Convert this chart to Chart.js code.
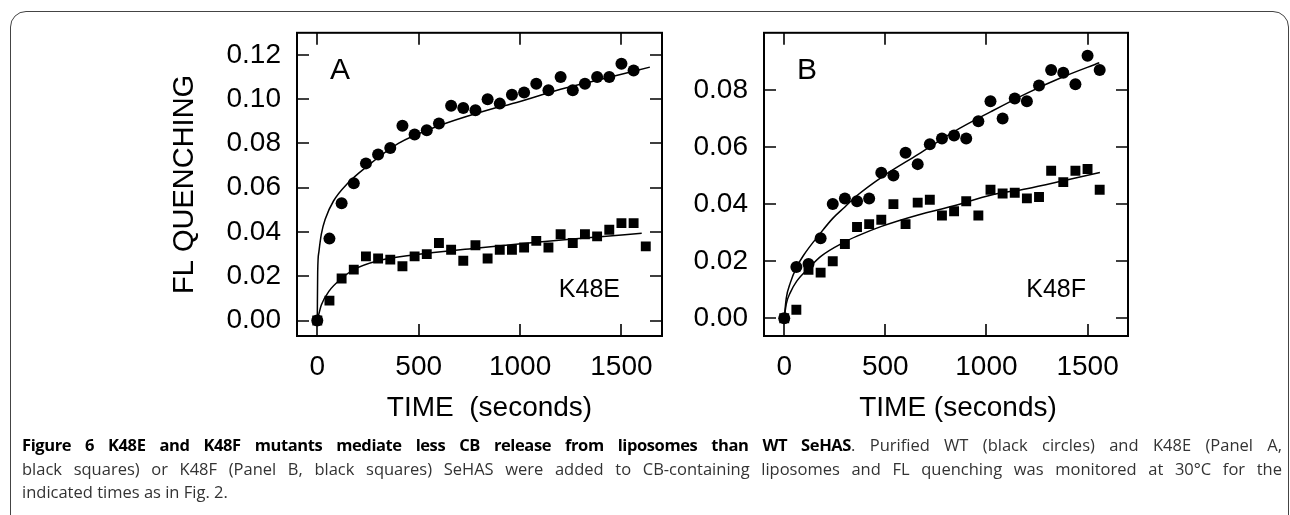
<!DOCTYPE html>
<html>
<head>
<meta charset="utf-8">
<script src="https://cdn.jsdelivr.net/npm/chart.js@4.4.0/dist/chart.umd.min.js"></script>
<style>
  html, body { margin: 0; padding: 0; background: #fff; width: 1290px; height: 515px; overflow: hidden; }
  #frame { position: absolute; left: 10px; top: 11px; width: 1279px; height: 600px; box-sizing: border-box;
           border: 1.5px solid #444; border-radius: 16px; }
  .wrap { position: absolute; top: 0; height: 440px; }
  #wrapA { left: 150px; width: 550px; }
  #wrapB { left: 670px; width: 500px; }
  #caption { position: absolute; left: 22px; top: 433px; width: 1260px; font-family: 'Open Sans', sans-serif;
             font-size: 16.5px; line-height: 23.5px; color: #333; }
  #caption div { text-align: justify; white-space: nowrap; }
  #caption .full { text-align-last: justify; }
  #caption b { color: #000; letter-spacing: -0.4px; }
</style>
</head>
<body>
<div id="frame"></div>
<div class="wrap" id="wrapA"><canvas id="chartA"></canvas></div>
<div class="wrap" id="wrapB"><canvas id="chartB"></canvas></div>
<div id="caption">
  <div class="full"><b>Figure 6 K48E and K48F mutants mediate less CB release from liposomes than WT SeHAS</b>. Purified WT (black circles) and K48E (Panel A,</div>
  <div class="full">black squares) or K48F (Panel B, black squares) SeHAS were added to CB-containing liposomes and FL quenching was monitored at 30°C for the</div>
  <div>indicated times as in Fig. 2.</div>
</div>
<script>
// Panel A: WT (circles) and K48E (squares)
const timesA_wt = [0, 60, 120, 180, 240, 300, 360, 420, 480, 540, 600, 660, 720, 780, 840, 900, 960, 1020, 1080, 1140, 1200, 1260, 1320, 1380, 1440, 1500, 1560];
const quenchA_wt = [0, 0.037, 0.053, 0.062, 0.071, 0.075, 0.078, 0.088, 0.084, 0.086, 0.089, 0.097, 0.096, 0.095, 0.100, 0.098, 0.102, 0.103, 0.107, 0.104, 0.110, 0.104, 0.107, 0.110, 0.110, 0.116, 0.113];
const timesA_mut = [0, 60, 120, 180, 240, 300, 360, 420, 480, 540, 600, 660, 720, 780, 840, 900, 960, 1020, 1080, 1140, 1200, 1260, 1320, 1380, 1440, 1500, 1560, 1620];
const quenchA_mut = [0, 0.009, 0.019, 0.023, 0.029, 0.028, 0.0275, 0.0245, 0.029, 0.030, 0.035, 0.032, 0.027, 0.034, 0.028, 0.032, 0.032, 0.033, 0.036, 0.033, 0.039, 0.035, 0.039, 0.038, 0.041, 0.044, 0.044, 0.0335];
// fitted curves
const fitTimesA_wt = [0, 2, 8, 20, 40, 80, 150, 250, 400, 600, 800, 1000, 1200, 1400, 1640];
const fitA_wt = [0, 0.022, 0.031, 0.039, 0.046, 0.054, 0.062, 0.070, 0.080, 0.088, 0.094, 0.099, 0.1045, 0.109, 0.1145];
const fitTimesA_mut = [0, 20, 60, 120, 180, 300, 480, 780, 1080, 1350, 1600];
const fitA_mut = [0, 0.007, 0.0135, 0.019, 0.023, 0.027, 0.0297, 0.0327, 0.0354, 0.0375, 0.0394];

// Panel B: WT (circles) and K48F (squares)
const timesB = [0, 60, 120, 180, 240, 300, 360, 420, 480, 540, 600, 660, 720, 780, 840, 900, 960, 1020, 1080, 1140, 1200, 1260, 1320, 1380, 1440, 1500, 1560];
const quenchB_wt = [0, 0.018, 0.019, 0.028, 0.040, 0.042, 0.041, 0.042, 0.051, 0.050, 0.058, 0.054, 0.061, 0.063, 0.064, 0.063, 0.069, 0.076, 0.070, 0.077, 0.076, 0.0815, 0.087, 0.086, 0.082, 0.092, 0.087];
const quenchB_mut = [0, 0.003, 0.017, 0.016, 0.020, 0.026, 0.032, 0.033, 0.0345, 0.040, 0.033, 0.0405, 0.0415, 0.036, 0.0375, 0.041, 0.036, 0.045, 0.0437, 0.044, 0.042, 0.0425, 0.0517, 0.0477, 0.0517, 0.0523, 0.045];
const fitTimesB_wt = [0, 10, 30, 62, 95, 181, 240, 300, 360, 481, 662, 840, 1020, 1199, 1380, 1558];
const fitB_wt = [0, 0.007, 0.0124, 0.018, 0.022, 0.030, 0.035, 0.039, 0.043, 0.0494, 0.0574, 0.0654, 0.0723, 0.0788, 0.0846, 0.0895];
const fitTimesB_mut = [0, 10, 30, 62, 123, 181, 300, 360, 481, 662, 840, 1020, 1199, 1380, 1561];
const fitB_mut = [0, 0.005, 0.009, 0.013, 0.0177, 0.0217, 0.0268, 0.0288, 0.0322, 0.0362, 0.0394, 0.0431, 0.0454, 0.0482, 0.0511];

// tick labels
const xTicks = [0, 500, 1000, 1500];
const yTicksA = [0, 0.02, 0.04, 0.06, 0.08, 0.10, 0.12];
const yTicksB = [0, 0.02, 0.04, 0.06, 0.08];

Chart.defaults.font.family = "'Liberation Sans', Arial, sans-serif";
Chart.defaults.color = '#000';

const pts = (xs, ys) => xs.map((x, i) => ({x: x, y: ys[i]}));

// plot frame, inward ticks on all four sides, x title, panel letter and mutant label
const boxPlugin = {
  id: 'box',
  afterDatasetsDraw(chart, args, opts) {
    const {ctx, chartArea: a, scales: {x, y}} = chart;
    ctx.save();
    ctx.strokeStyle = '#000';
    ctx.lineWidth = 1.6;
    ctx.beginPath();
    x.ticks.forEach(t => {
      const px = Math.round(x.getPixelForValue(t.value));
      ctx.moveTo(px, a.bottom); ctx.lineTo(px, a.bottom - 12);
      ctx.moveTo(px, a.top); ctx.lineTo(px, a.top + 12);
    });
    y.ticks.forEach(t => {
      const py = Math.round(y.getPixelForValue(t.value));
      ctx.moveTo(a.left, py); ctx.lineTo(a.left + 12, py);
      ctx.moveTo(a.right, py); ctx.lineTo(a.right - 12, py);
    });
    ctx.stroke();
    ctx.lineWidth = 2;
    ctx.strokeRect(a.left, a.top, a.right - a.left, a.bottom - a.top);
    ctx.fillStyle = '#000';
    ctx.textBaseline = 'middle';
    ctx.textAlign = 'center';
    ctx.font = "28px 'Liberation Sans', Arial, sans-serif";
    ctx.fillText(opts.xTitle, (a.left + a.right) / 2 + opts.xShift, a.bottom + 72);
    ctx.font = "30px 'Liberation Sans', Arial, sans-serif";
    ctx.fillText(opts.letter, a.left + 43, a.top + 38);
    ctx.font = "25px 'Liberation Sans', Arial, sans-serif";
    ctx.textAlign = 'right';
    ctx.fillText(opts.label, a.right - 42, a.bottom - 46);
    ctx.restore();
  }
};

function makeChart(id, d, yTicks, yMin, yMax, yWidth, padRight, box, yTitle) {
  const marker = {showLine: false, backgroundColor: '#000', borderColor: '#000', pointBorderWidth: 0};
  const fit = {showLine: true, pointRadius: 0, borderColor: '#000', borderWidth: 1.5, cubicInterpolationMode: 'monotone'};
  return new Chart(document.getElementById(id).getContext('2d'), {
    type: 'scatter',
    data: {
      datasets: [
        Object.assign({data: d.fitWt}, fit),
        Object.assign({data: d.fitMut}, fit),
        Object.assign({data: d.mut, pointStyle: 'rect', pointRadius: 7}, marker),
        Object.assign({data: d.wt, pointStyle: 'circle', pointRadius: 6}, marker)
      ]
    },
    options: {
      responsive: true,
      maintainAspectRatio: false,
      animation: false,
      events: [],
      layout: {padding: {top: 28, right: padRight, left: 0, bottom: 0}},
      plugins: {legend: {display: false}, tooltip: {enabled: false}, box: box},
      scales: {
        x: {
          type: 'linear', min: -100, max: 1700,
          afterBuildTicks: s => { s.ticks = xTicks.map(v => ({value: v})); },
          afterFit: s => { s.height = 104; },
          grid: {display: false, drawTicks: false},
          border: {display: false},
          ticks: {padding: 14, font: {size: 28}, maxRotation: 0, callback: v => String(v)}
        },
        y: {
          type: 'linear', min: yMin, max: yMax,
          afterBuildTicks: s => { s.ticks = yTicks.map(v => ({value: v})); },
          afterFit: s => { s.width = yWidth; },
          grid: {display: false, drawTicks: false},
          border: {display: false},
          ticks: {padding: 16, font: {size: 28}, callback: v => v.toFixed(2)},
          title: {display: yTitle !== '', text: yTitle, font: {size: 29}, padding: {top: 18, bottom: 0}}
        }
      }
    },
    plugins: [boxPlugin]
  });
}

makeChart('chartA', {
  wt: pts(timesA_wt, quenchA_wt), mut: pts(timesA_mut, quenchA_mut),
  fitWt: pts(fitTimesA_wt, fitA_wt), fitMut: pts(fitTimesA_mut, fitA_mut)
}, yTicksA, -0.007, 0.130, 147, 38,
  {letter: 'A', label: 'K48E', xTitle: 'TIME  (seconds)', xShift: 10}, 'FL QUENCHING');

makeChart('chartB', {
  wt: pts(timesB, quenchB_wt), mut: pts(timesB, quenchB_mut),
  fitWt: pts(fitTimesB_wt, fitB_wt), fitMut: pts(fitTimesB_mut, fitB_mut)
}, yTicksB, -0.0062, 0.100, 94, 42,
  {letter: 'B', label: 'K48F', xTitle: 'TIME (seconds)', xShift: 12}, '');
</script>
</body>
</html>
